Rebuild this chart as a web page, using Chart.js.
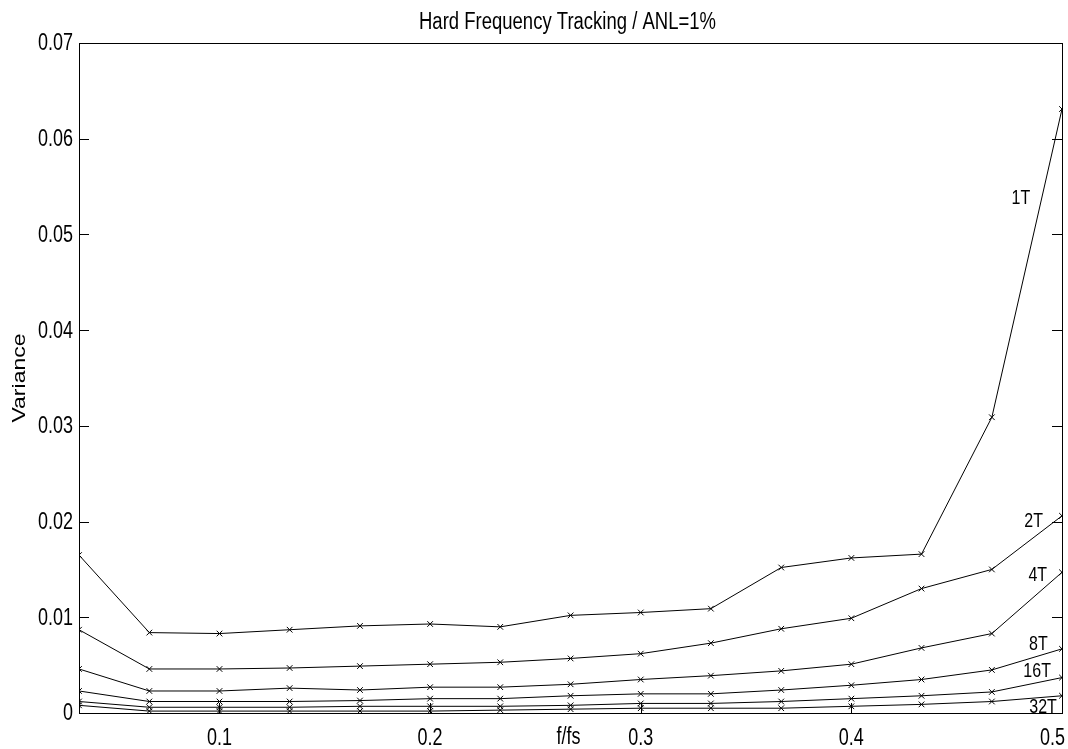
<!DOCTYPE html>
<html>
<head>
<meta charset="utf-8">
<script src="https://cdn.jsdelivr.net/npm/chart.js@4.4.1/dist/chart.umd.min.js"></script>
<style>
  html, body { margin: 0; padding: 0; background: #fff; }
  canvas { display: block; }
</style>
</head>
<body>
<canvas id="varChart" width="1068" height="749"></canvas>
<script>
// normalised frequency of each measurement
const freqs = [0.0333, 0.0667, 0.1, 0.1333, 0.1667, 0.2, 0.2333, 0.2667, 0.3, 0.3333, 0.3667, 0.4, 0.4333, 0.4667, 0.5];

// variance per tracker length
const var1T  = [0.0165, 0.0084, 0.0083, 0.0087, 0.0091, 0.0093, 0.0090, 0.0102, 0.0105, 0.0109, 0.0152, 0.0162, 0.0166, 0.0309, 0.0631];
const var2T  = [0.0087, 0.0046, 0.0046, 0.0047, 0.0049, 0.0051, 0.0053, 0.0057, 0.0062, 0.0073, 0.0088, 0.0099, 0.0130, 0.0150, 0.0206];
const var4T  = [0.0046, 0.0023, 0.0023, 0.0026, 0.0024, 0.0027, 0.0027, 0.0030, 0.0035, 0.0039, 0.0044, 0.0051, 0.0068, 0.0083, 0.0147];
const var8T  = [0.0023, 0.0012, 0.0012, 0.0012, 0.0013, 0.0015, 0.0015, 0.0018, 0.0020, 0.0020, 0.0024, 0.0029, 0.0035, 0.0045, 0.0067];
const var16T = [0.0012, 0.0006, 0.0006, 0.0006, 0.0007, 0.0007, 0.0007, 0.0008, 0.0010, 0.0010, 0.0012, 0.0015, 0.0018, 0.0022, 0.0037];
const var32T = [0.0008, 0.0002, 0.0002, 0.0002, 0.0002, 0.0002, 0.0003, 0.0004, 0.0005, 0.0005, 0.0005, 0.0007, 0.0009, 0.0012, 0.0018];

const seriesNames = ['1T', '2T', '4T', '8T', '16T', '32T'];
const seriesVals = [var1T, var2T, var4T, var8T, var16T, var32T];

// where each curve name sits, in data units
const nameX = [0.4805, 0.4865, 0.4885, 0.4888, 0.4882, 0.4910];
const nameY = [0.0538, 0.0200, 0.0144, 0.0072, 0.0043, 0.0006];

const xTicks = [0.1, 0.2, 0.3, 0.4, 0.5];
const yTicks = [0, 0.01, 0.02, 0.03, 0.04, 0.05, 0.06, 0.07];

const FONT = "'Liberation Sans', Arial, sans-serif";
const STRETCH = 1.28; // the original text is drawn taller than it is wide

// text with the same tall look as the source image
function tallText(ctx, txt, x, y, size, align, baseline, rot) {
  ctx.save();
  ctx.translate(x, y);
  if (rot) {
    ctx.rotate(rot);
    ctx.scale(STRETCH, 1);
  } else {
    ctx.scale(1, STRETCH);
  }
  ctx.font = size + 'px ' + FONT;
  ctx.textAlign = align;
  ctx.textBaseline = baseline;
  ctx.fillText(txt, 0, 0);
  ctx.restore();
}

// box, inner ticks and all the text, matlab style
const matlabLook = {
  id: 'matlabLook',
  afterDatasetsDraw(chart) {
    const { ctx, chartArea: a, scales: { x, y } } = chart;
    ctx.save();
    ctx.strokeStyle = '#000';
    ctx.lineWidth = 1;
    ctx.strokeRect(a.left + 0.5, a.top + 0.5, a.right - a.left, a.bottom - a.top);

    ctx.beginPath();
    yTicks.forEach(v => {
      const py = Math.round(y.getPixelForValue(v)) + 0.5;
      ctx.moveTo(a.left, py); ctx.lineTo(a.left + 10, py);
      ctx.moveTo(a.right, py); ctx.lineTo(a.right - 10, py);
    });
    xTicks.forEach(v => {
      const px = Math.round(x.getPixelForValue(v)) + 0.5;
      ctx.moveTo(px, a.bottom); ctx.lineTo(px, a.bottom - 10);
    });
    ctx.stroke();

    ctx.fillStyle = '#000';
    ctx.font = '18px ' + FONT;
    xTicks.forEach(v => {
      const txt = String(v);
      const w = ctx.measureText(txt).width;
      const px = Math.min(x.getPixelForValue(v), chart.width - w / 2 - 3);
      tallText(ctx, txt, px, 745, 18, 'center', 'alphabetic');
    });
    yTicks.forEach(v => {
      const txt = v === 0 ? '0' : v.toFixed(2);
      tallText(ctx, txt, a.left - 6, y.getPixelForValue(v) + 1, 18, 'right', 'middle');
    });
    tallText(ctx, 'f/fs', (a.left + a.right) / 2 - 2, 744, 18, 'center', 'alphabetic');
    tallText(ctx, 'Hard Frequency Tracking / ANL=1%', (a.left + a.right) / 2 - 3, 29, 18.5, 'center', 'alphabetic');
    tallText(ctx, 'Variance', 20, (a.top + a.bottom) / 2, 18, 'center', 'middle', -Math.PI / 2);

    seriesNames.forEach((n, i) => {
      tallText(ctx, n, x.getPixelForValue(nameX[i]), y.getPixelForValue(nameY[i]), 16, 'center', 'middle');
    });
    ctx.restore();
  }
};

const datasets = seriesNames.map((n, i) => ({
  label: n,
  data: freqs.map((f, j) => ({ x: f, y: seriesVals[i][j] })),
  borderColor: '#000',
  borderWidth: 1,
  pointStyle: 'crossRot',
  pointRadius: 4,
  pointBorderColor: '#000',
  pointBorderWidth: 1,
  tension: 0,
  fill: false
}));

new Chart(document.getElementById('varChart').getContext('2d'), {
  type: 'line',
  data: { datasets },
  options: {
    responsive: false,
    animation: false,
    layout: { padding: { top: 43, right: 6, bottom: 0, left: 0 } },
    plugins: {
      legend: { display: false },
      tooltip: { enabled: false }
    },
    scales: {
      x: {
        type: 'linear',
        min: 0.0333,
        max: 0.5,
        grid: { display: false },
        border: { display: false },
        ticks: { display: false },
        afterFit: s => { s.height = 36; }
      },
      y: {
        min: 0,
        max: 0.07,
        grid: { display: false },
        border: { display: false },
        ticks: { display: false },
        afterFit: s => { s.width = 79; }
      }
    }
  },
  plugins: [matlabLook]
});
</script>
</body>
</html>
